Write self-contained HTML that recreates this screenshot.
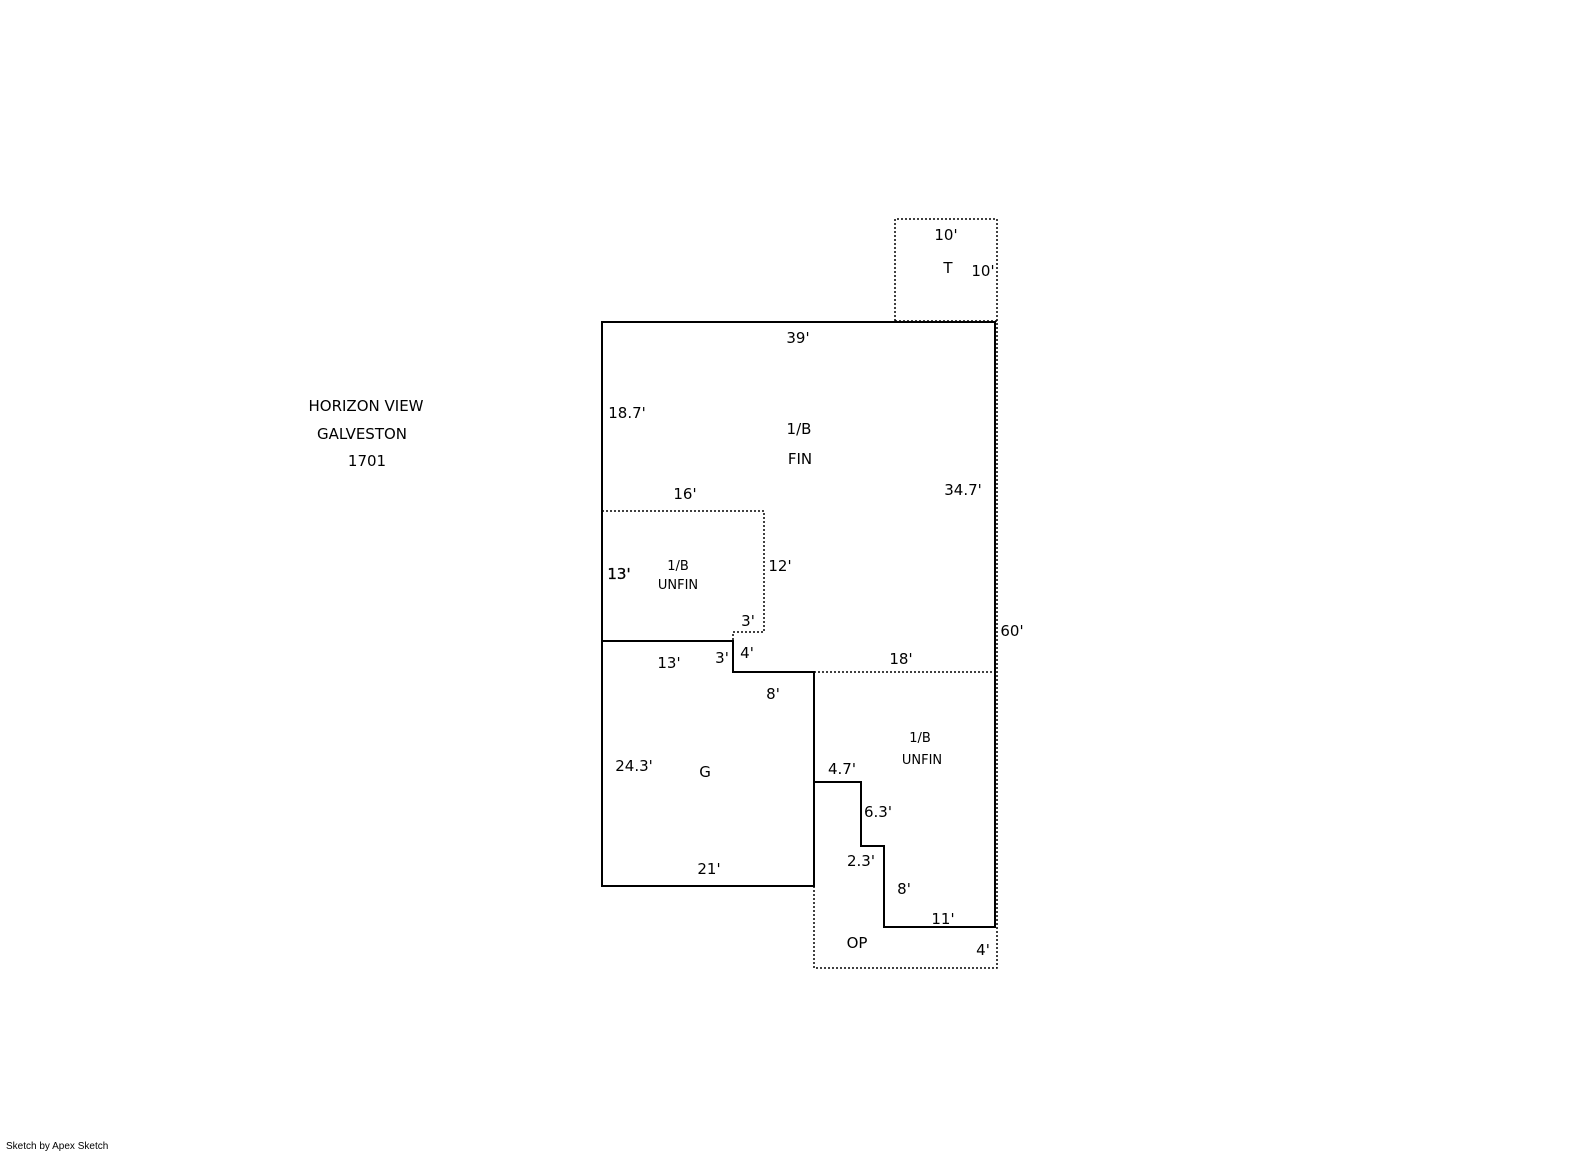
<!DOCTYPE html>
<html><head><meta charset="utf-8"><style>
body{margin:0;background:#fff;}
svg{display:block}
text{font-family:"DejaVu Sans","Liberation Sans",sans-serif;font-size:15px;fill:#000}
.s{font-size:13px}
</style></head><body>
<svg width="1585" height="1163" viewBox="0 0 1585 1163" xmlns="http://www.w3.org/2000/svg">
<g fill="none" stroke="#000" stroke-width="2">
<path d="M602 322 H995 V927 H884 V846 H861 V782 H814 V886 H602 Z"/>
<path d="M602 641 H733 V672 H814 V782"/>
</g>
<g fill="none" stroke="#000" stroke-width="1.5" stroke-dasharray="2,2">
<path d="M895 321 V219 H997 V968 H814 V886"/>
<path d="M602 511 H764 V632 H733 V641"/>
<path d="M814 672 H997"/>
<path d="M895 321 H997"/>
</g>
<g text-anchor="middle">
<text x="366" y="411">HORIZON VIEW</text>
<text x="362" y="439">GALVESTON</text>
<text x="367" y="466">1701</text>
<text x="946" y="240">10'</text>
<text x="948" y="273">T</text>
<text x="983" y="276">10'</text>
<text x="798" y="343">39'</text>
<text x="627" y="418">18.7'</text>
<text x="799" y="434">1/B</text>
<text x="800" y="464">FIN</text>
<text x="685" y="499">16'</text>
<text x="963" y="495">34.7'</text>
<text x="619" y="579" stroke="#000" stroke-width="0.3">13'</text>
<text x="678" y="570" class="s">1/B</text>
<text x="678" y="589" class="s">UNFIN</text>
<text x="780" y="571">12'</text>
<text x="748" y="626">3'</text>
<text x="1012" y="636">60'</text>
<text x="669" y="668">13'</text>
<text x="722" y="663">3'</text>
<text x="747" y="658">4'</text>
<text x="901" y="664">18'</text>
<text x="773" y="699">8'</text>
<text x="634" y="771">24.3'</text>
<text x="705" y="777">G</text>
<text x="920" y="742" class="s">1/B</text>
<text x="922" y="764" class="s">UNFIN</text>
<text x="842" y="774">4.7'</text>
<text x="878" y="817">6.3'</text>
<text x="861" y="866">2.3'</text>
<text x="904" y="894">8'</text>
<text x="709" y="874">21'</text>
<text x="943" y="924">11'</text>
<text x="857" y="948">OP</text>
<text x="983" y="955">4'</text>
</g>
<text x="6" y="1149" style="font-size:10px;font-family:'Liberation Sans',sans-serif">Sketch by Apex Sketch</text>
</svg>
</body></html>
